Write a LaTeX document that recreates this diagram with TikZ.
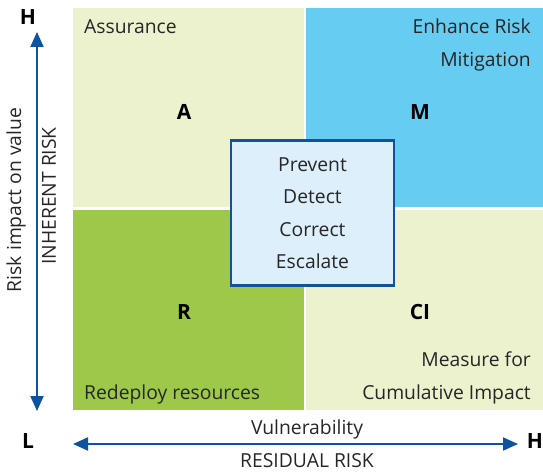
\documentclass[tikz,border=0pt]{standalone}
\usepackage{fontspec}
\setmainfont{Open Sans}
\usetikzlibrary{arrows.meta}
\definecolor{palegreen}{RGB}{236,242,206}
\definecolor{skyblue}{RGB}{102,204,242}
\definecolor{leafgreen}{RGB}{157,200,74}
\definecolor{boxblue}{RGB}{220,239,250}
\definecolor{darkblue}{RGB}{14,82,160}
\tikzset{
  quad/.style={draw=none,inner sep=0pt,anchor=north west},
  lbl/.style={font=\fontsize{19.3}{32.5}\selectfont,inner sep=0pt,text=black!85},
  big/.style={font=\fontsize{21}{24}\selectfont\bfseries,inner sep=0pt},
  axis/.style={draw=darkblue,line width=2pt,{Triangle[length=15pt,width=13pt]}-{Triangle[length=15pt,width=13pt]}}
}
\begin{document}
\begin{tikzpicture}[x=1pt,y=-1pt]
\useasboundingbox (0,0) rectangle (543,476);
% quadrants
\node[quad,fill=palegreen,minimum width=231pt,minimum height=199pt] (qa) at (73,8) {};
\node[quad,fill=skyblue,minimum width=237pt,minimum height=199pt] (qm) at (306,8) {};
\node[quad,fill=leafgreen,minimum width=231pt,minimum height=200pt] (qr) at (73,210) {};
\node[quad,fill=palegreen,minimum width=237pt,minimum height=200pt] (qc) at (306,210) {};
% centre box
\node[draw=darkblue,line width=2.5pt,fill=boxblue,minimum width=163pt,minimum height=145pt,inner sep=0pt,lbl,align=center] (ctr) at (312.5,213) {Prevent\\Detect\\Correct\\Escalate};
% quadrant texts
\node[lbl,anchor=base west] (tass) at (84,34) {Assurance};
\node[lbl,anchor=base east,align=right] (tenh) at (531,66.5) {Enhance Risk\\Mitigation};
\node[lbl,anchor=base east,align=right] (tmea) at (531,399) {Measure for\\Cumulative Impact};
\node[lbl,anchor=base west] (tred) at (84,399) {Redeploy resources};
\node[big] (la) at (184,112) {A};
\node[big] (lm) at (420,112) {M};
\node[big] (lr) at (184,312) {R};
\node[big] (lci) at (420,312) {CI};
% axes
\node[big] (hy) at (28,17) {H};
\node[big] (ll) at (28,441) {L};
\node[big] (hx) at (535,441) {H};
\coordinate (yt) at (37,32);
\coordinate (yb) at (37,411);
\coordinate (xl) at (73,444);
\coordinate (xr) at (518,444);
\draw[axis] (yb) -- (yt);
\draw[axis] (xl) -- (xr);
\node[lbl,rotate=90] (riv) at (16,200) {Risk impact on value};
\node[lbl,rotate=90] (inh) at (49,196) {INHERENT RISK};
\node[lbl] (vul) at (307,429) {Vulnerability};
\node[lbl] (res) at (307,461) {RESIDUAL RISK};
\end{tikzpicture}
\end{document}
